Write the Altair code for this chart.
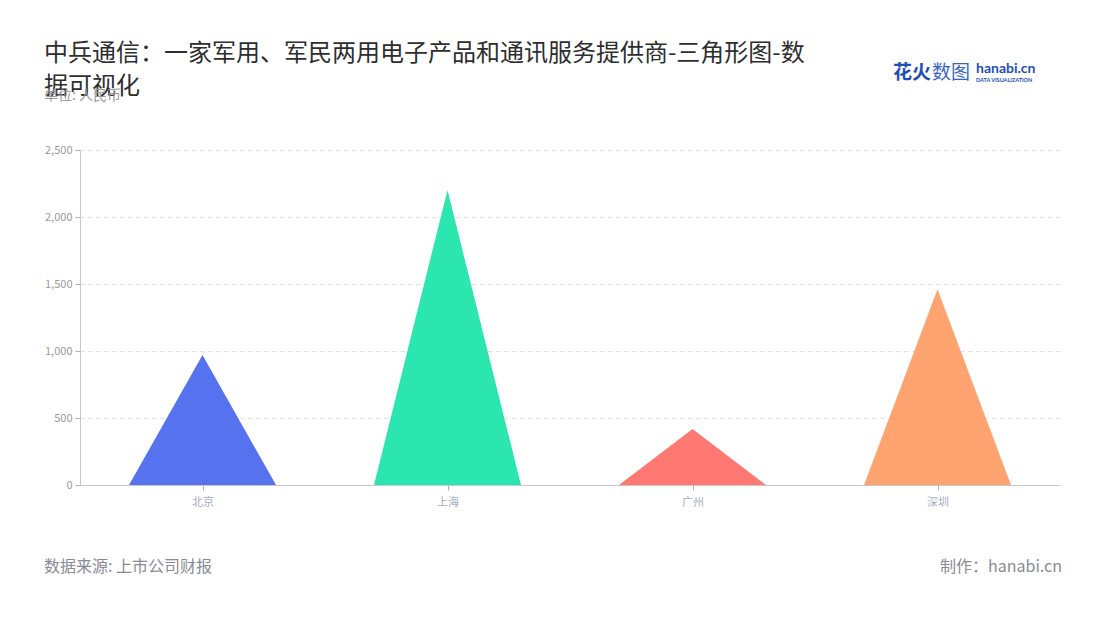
import altair as alt
import pandas as pd

categories = ["北京", "上海", "广州", "深圳"]
values = [970, 2200, 418, 1460]
colors = ["#5772EF", "#2CE6B0", "#FF7872", "#FFA371"]
y_ticks = [0, 500, 1000, 1500, 2000, 2500]

title_text = "中兵通信：一家军用、军民两用电子产品和通讯服务提供商-三角形图-数\n据可视化"
subtitle_text = "单位: 人民币"
source_text = "数据来源: 上市公司财报"
maker_text = "制作：hanabi.cn"

HALF = 0.3
rows = []
for i, (c, v) in enumerate(zip(categories, values)):
    rows.append({"cat": c, "x": i - HALF, "y": 0})
    rows.append({"cat": c, "x": i, "y": v})
    rows.append({"cat": c, "x": i + HALF, "y": 0})
df = pd.DataFrame(rows)

label_expr = "[" + ",".join(f"'{c}'" for c in categories) + "][datum.value]"

FONT = "Noto Sans CJK SC"

areas = alt.Chart(df).mark_area(opacity=1).encode(
    x=alt.X("x:Q", scale=alt.Scale(domain=[-0.5, 3.5], nice=False, zero=False),
            axis=alt.Axis(values=list(range(len(categories))), labelExpr=label_expr,
                          title=None, grid=False, domainColor="#c8c8c8", tickColor="#b0b0b0",
                          tickSize=5, labelColor="#a5adbd", labelFontSize=11, labelPadding=6,
                          labelFont=FONT)),
    y=alt.Y("y:Q", stack=None, scale=alt.Scale(domain=[0, 2500], nice=False),
            axis=alt.Axis(values=y_ticks, format=",d", title=None, grid=True,
                          gridDash=[4, 4], gridColor="#dedede", domainColor="#c8c8c8",
                          tickColor="#b0b0b0", tickSize=5, labelColor="#9a9a9a",
                          labelFontSize=11, labelPadding=3, labelFont=FONT)),
    color=alt.Color("cat:N", scale=alt.Scale(domain=categories, range=colors), legend=None),
    detail="cat:N",
)

one = pd.DataFrame({"t": [0]})

def txt(text, x, y, size, color, align="left", baseline="middle", weight="normal", line_height=None, font=FONT):
    kw = dict(align=align, baseline=baseline, fontSize=size, color=color, fontWeight=weight, font=font)
    if line_height:
        kw["lineBreak"] = "\n"
        kw["lineHeight"] = line_height
    return alt.Chart(one).mark_text(**kw).encode(
        text=alt.value(text), x=alt.value(x), y=alt.value(y))

title = txt(title_text, -36, -108, 24, "#2e2e2e", baseline="top", line_height=33)
subtitle = txt(subtitle_text, -36, -54, 14, "#9a9a9a")
source = txt(source_text, -36, 417, 16, "#8a8a96")
maker = txt(maker_text, 982, 417, 16, "#8a8a96", align="right")
logo1 = txt("花火", 813, -77, 19, "#1f4fb4", weight="bold")
logo1b = txt("数图", 852, -77, 19, "#3a64c0")
logo2 = txt("hanabi.cn", 896, -81, 14, "#1f4fb4", weight="bold", font="Lato")
logo3 = txt("DATA VISUALIZATION", 896, -70, 5.5, "#1f4fb4", weight="bold", font="Lato")

chart = alt.layer(areas, title, subtitle, source, maker, logo1, logo1b, logo2, logo3).properties(
    width=980, height=335,
    padding={"left": 72, "top": 142, "right": 32, "bottom": 120},
    autosize=alt.AutoSizeParams(type="none"),
    background="white",
).configure_view(stroke=None)

chart.save("out.html", embed_options={"renderer": "svg", "actions": False})
